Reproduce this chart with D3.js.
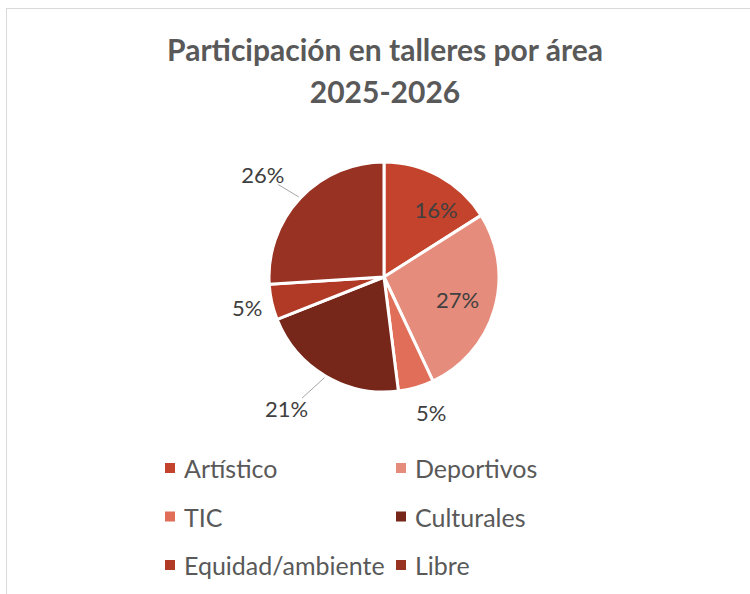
<!DOCTYPE html>
<html>
<head>
<meta charset="utf-8">
<script src="https://cdn.jsdelivr.net/npm/d3@7"></script>
<style>
  body { margin: 0; background: #fff; }
  svg text { font-family: Lato, "Open Sans", sans-serif; }
</style>
</head>
<body>
<div id="chart"></div>
<script>
// data
var categories = ["Artístico", "Deportivos", "TIC", "Culturales", "Equidad/ambiente", "Libre"];
var values = [16, 27, 5, 21, 5, 26];
var colors = ["#C4432C", "#E58C7C", "#E06E59", "#77271A", "#B03A26", "#983223"];
var titleLines = ["Participación en talleres por área", "2025-2026"];

// where the data labels sit, as a fraction of the radius (Excel "best fit")
var labelRadius = [0.74, 0.67, 1.25, 1.42, 1.22, 1.38];
var labelShift = [9, 1, -3, 6, 0, -3];   // degrees
var leader = [false, false, false, true, false, true];

var W = 750, H = 594;
var cx = 384, cy = 277, r = 115;

var svg = d3.select("#chart")
  .append("svg")
    .attr("width", W)
    .attr("height", H);

// chart frame
svg.append("rect")
  .attr("x", 6.5).attr("y", 8.5)
  .attr("width", W).attr("height", H)
  .attr("fill", "none")
  .attr("stroke", "#D9D9D9");

// title
svg.append("g")
  .selectAll("text")
  .data(titleLines)
  .enter()
  .append("text")
    .attr("x", 385)
    .attr("y", function(d, i) { return 61 + i * 42; })
    .attr("text-anchor", "middle")
    .attr("font-size", 30)
    .attr("font-weight", "bold")
    .attr("fill", "#595959")
    .text(function(d) { return d; });

var data = categories.map(function(c, i) { return {name: c, value: values[i], i: i}; });

var pie = d3.pie()
  .sort(null)
  .value(function(d) { return d.value; });

var arc = d3.arc().innerRadius(0).outerRadius(r);

var g = svg.append("g")
  .attr("transform", "translate(" + cx + "," + cy + ")");

var arcs = pie(data);

g.selectAll("path")
  .data(arcs)
  .enter()
  .append("path")
    .attr("d", arc)
    .attr("fill", function(d) { return colors[d.index]; })
    .attr("stroke", "#fff")
    .attr("stroke-width", 3)
    .attr("stroke-linejoin", "round");

function labelPos(d) {
  var a = (d.startAngle + d.endAngle) / 2 + labelShift[d.index] * Math.PI / 180;
  var rr = r * labelRadius[d.index];
  return [rr * Math.sin(a), -rr * Math.cos(a)];
}

// leader lines
g.selectAll("line.leader")
  .data(arcs.filter(function(d) { return leader[d.index]; }))
  .enter()
  .append("line")
    .attr("class", "leader")
    .attr("x1", function(d) { var a = (d.startAngle + d.endAngle) / 2; return (r + 2) * Math.sin(a); })
    .attr("y1", function(d) { var a = (d.startAngle + d.endAngle) / 2; return -(r + 2) * Math.cos(a); })
    .attr("x2", function(d) { var p = labelPos(d); return p[0] + (p[0] < 0 ? 22 : -22) * 0.7; })
    .attr("y2", function(d) { var p = labelPos(d); return p[1] + (p[1] < 0 ? 10 : -10); })
    .attr("stroke", "#A6A6A6")
    .attr("stroke-width", 1);

g.selectAll("text.lbl")
  .data(arcs)
  .enter()
  .append("text")
    .attr("class", "lbl")
    .attr("x", function(d) { return labelPos(d)[0]; })
    .attr("y", function(d) { return labelPos(d)[1]; })
    .attr("text-anchor", "middle")
    .attr("dominant-baseline", "central")
    .attr("font-size", 22)
    .attr("fill", "#404040")
    .text(function(d) { return d.data.value + "%"; });

// legend
var legend = svg.append("g")
  .selectAll("g")
  .data(data)
  .enter()
  .append("g")
    .attr("transform", function(d, i) {
      return "translate(" + (165 + (i % 2) * 231) + "," + (468 + Math.floor(i / 2) * 48.5) + ")";
    });

legend.append("rect")
  .attr("x", 0).attr("y", -5)
  .attr("width", 10).attr("height", 10)
  .attr("fill", function(d) { return colors[d.i]; });

legend.append("text")
  .attr("x", 19)
  .attr("y", 0)
  .attr("dominant-baseline", "central")
  .attr("font-size", 25)
  .attr("fill", "#595959")
  .text(function(d) { return d.name; });
</script>
</body>
</html>
